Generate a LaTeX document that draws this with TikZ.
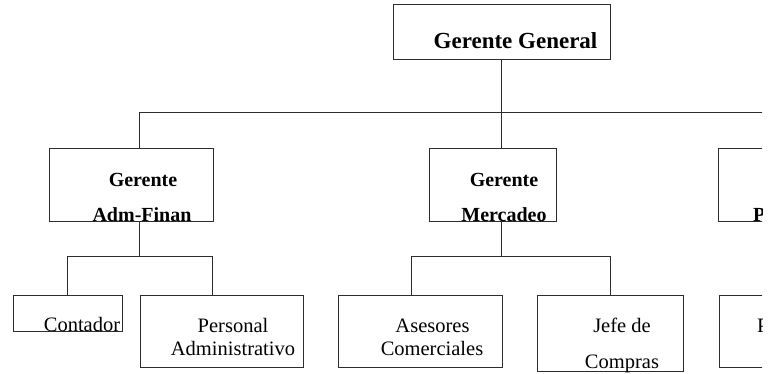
\documentclass[tikz,border=0pt]{standalone}
\usepackage{fontspec}
\setmainfont{Liberation Serif}
\usetikzlibrary{positioning, calc}
\definecolor{linegray}{RGB}{45, 45, 45}

\begin{document}
\begin{tikzpicture}[
          x=1pt, y=-1pt,
          box/.style={rectangle, draw=linegray, line width=1pt,
                      inner sep=0pt},
          head/.style={font=\bfseries\fontsize{20}{20}\selectfont,
                       inner sep=0pt, anchor=base},
          txt/.style={font=\fontsize{20.5}{20.5}\selectfont,
                      inner sep=0pt, anchor=base},
          conn/.style={draw=linegray, line width=1pt},
      ]
      \useasboundingbox (0, 0) rectangle (774, 374);
      \clip (0, 0) rectangle (762, 374);
      % managers
      \node[box, minimum width=217pt, minimum height=55pt] (gg)
          at (501.5, 32.5) {};
      \node[box, minimum width=164pt, minimum height=73pt] (adm)
          at (131, 185.5) {};
      \node[box, minimum width=127pt, minimum height=73pt] (mer)
          at (492.5, 185.5) {};
      \node[box, minimum width=127pt, minimum height=73pt] (prod)
          at (781.5, 185.5) {};
      % staff
      \node[box, minimum width=109pt, minimum height=36pt] (cont)
          at (67.5, 313) {};
      \node[box, minimum width=163pt, minimum height=72pt] (pers)
          at (221.5, 331) {};
      \node[box, minimum width=164pt, minimum height=72pt] (ases)
          at (420, 331) {};
      \node[box, minimum width=146pt, minimum height=76pt] (jefe)
          at (610, 333) {};
      \node[box, minimum width=146pt, minimum height=72pt] (prodsub)
          at (792, 331) {};
      % labels
      \node[head, font=\bfseries\fontsize{23}{23}\selectfont]
          (ggtxt) at (515.5, 49) {Gerente General};
      \node[head] (admtxta) at (143, 187) {Gerente};
      \node[head] (admtxtb) at (142, 222) {Adm-Finan};
      \node[head] (mertxta) at (504, 187) {Gerente};
      \node[head] (mertxtb) at (504, 222) {Mercadeo};
      \node[head, anchor=base west] (prodtxt) at (753, 222) {P};
      \node[txt] (conttxt) at (82, 331) {Contador};
      \node[txt] (perstxta) at (233, 332) {Personal};
      \node[txt] (perstxtb) at (233, 355) {Administrativo};
      \node[txt] (asestxta) at (432.5, 332) {Asesores};
      \node[txt] (asestxtb) at (432, 355) {Comerciales};
      \node[txt] (jefetxta) at (622, 332) {Jefe de};
      \node[txt] (jefetxtb) at (622, 368) {Compras};
      \node[txt, anchor=base west] (prodsubtxt) at (757, 332) {P};
      % connectors
      \coordinate (busL) at (139, 113);
      \coordinate (busR) at (774, 113);
      \coordinate (subA) at (139, 257);
      \coordinate (dropA) at (212, 257);
      \coordinate (subM) at (501, 257);
      \coordinate (dropM) at (411, 257);
      \draw[conn] (busL) -- (busR);
      \draw[conn] (gg.south) -- (gg.south |- mer.north);
      \draw[conn] (busL) -- (busL |- adm.north);
      \draw[conn] (subA |- adm.south) -- (subA);
      \draw[conn] (cont.north) |- (dropA) -- (dropA |- pers.north);
      \draw[conn] (subM |- mer.south) -- (subM);
      \draw[conn] (dropM |- ases.north) -- (dropM) -| (jefe.north);
      \end{tikzpicture}
\end{document}
